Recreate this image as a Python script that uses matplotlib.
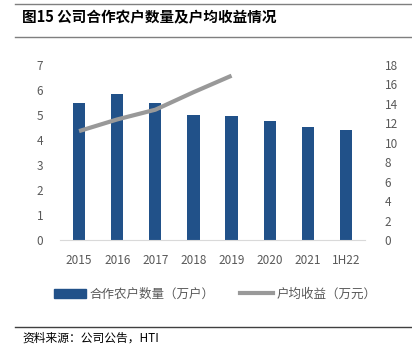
import matplotlib.pyplot as plt
from matplotlib.lines import Line2D
from matplotlib.patches import Patch

plt.rcParams['font.family'] = ['Noto Sans CJK SC', 'DejaVu Sans']

years = ["2015", "2016", "2017", "2018", "2019", "2020", "2021", "1H22"]
households = [5.5, 5.85, 5.5, 4.98, 4.97, 4.78, 4.53, 4.42]
line_years = ["2015", "2016", "2017", "2018", "2019"]
income = [11.2, 12.4, 13.4, 15.2, 16.9]

bar_color = "#215189"
line_color = "#999999"
tick_color = "#595959"

fig = plt.figure(figsize=(4.12, 3.53), dpi=100)

# header / footer rules
fig.add_artist(Line2D([15/412, 1], [1-4/353]*2, color="#7f7f7f", lw=1))
fig.add_artist(Line2D([15/412, 1], [1-37/353]*2, color="#7f7f7f", lw=1))
fig.add_artist(Line2D([15/412, 1], [1-327/353]*2, color="#404040", lw=1))
fig.text(22/412, 1-17/353, "图15 公司合作农户数量及户均收益情况", fontsize=10.5,
         fontweight="bold", va="center", ha="left", color="#000000")
fig.text(22/412, 1-338/353, "资料来源：公司公告，HTI", fontsize=8.5,
         va="center", ha="left", color="#000000")

ax = fig.add_axes([60/412, 1-240/353, 305/412, 175/353])
x = range(len(years))
ax.bar(x, households, width=0.32, color=bar_color, zorder=2)
ax.set_ylim(0, 7)
ax.set_xlim(-0.5, len(years) - 0.5)
ax.set_yticks(range(0, 8))
ax.set_xticks(list(x))
ax.set_xticklabels(years)
for s in ["top", "right", "left"]:
    ax.spines[s].set_visible(False)
ax.spines["bottom"].set_color("#d9d9d9")
ax.tick_params(axis="both", length=0, colors=tick_color, labelsize=8.5)
ax.tick_params(axis="y", pad=12)
ax.tick_params(axis="x", pad=10)

ax2 = ax.twinx()
ax2.plot([years.index(y) for y in line_years], income, color=line_color, lw=3,
         solid_capstyle="butt", zorder=3)
ax2.set_ylim(0, 18)
ax2.set_yticks(range(0, 19, 2))
for s in ["top", "right", "left", "bottom"]:
    ax2.spines[s].set_visible(False)
ax2.tick_params(axis="y", length=0, colors=tick_color, labelsize=8.5, pad=14)

handles = [Patch(color=bar_color), Line2D([0], [0], color=line_color, lw=3)]
labels = ["合作农户数量（万户）", "户均收益（万元）"]
fig.legend(handles, labels, loc="center", bbox_to_anchor=(215/412, 1-294/353),
           ncol=2, frameon=False, fontsize=9, handlelength=2.6,
           columnspacing=2.0, handletextpad=0.3, labelcolor=tick_color)

fig.savefig("out.png", dpi=100)
